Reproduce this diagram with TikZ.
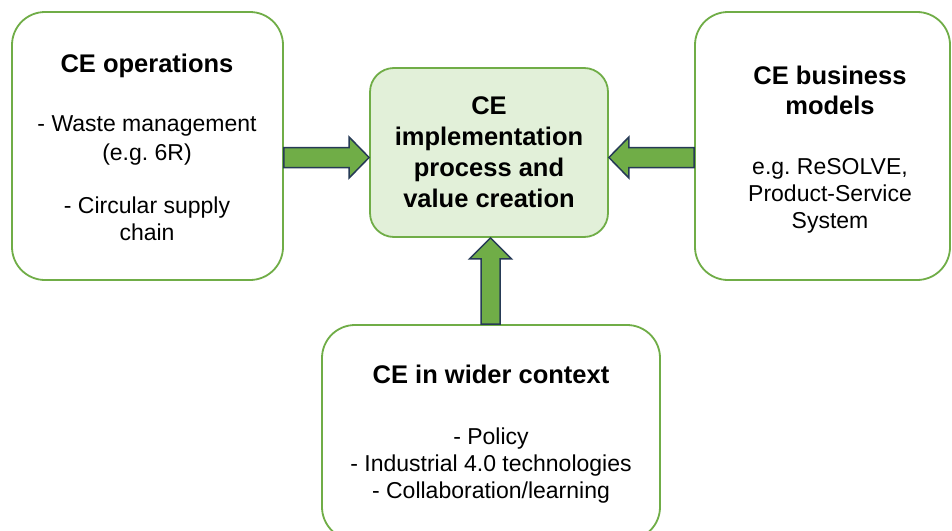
\documentclass[tikz,border=0pt]{standalone}
\usepackage{fontspec}
\setmainfont{Liberation Sans}
\usetikzlibrary{calc}
\definecolor{cegreen}{HTML}{70AD47}
\definecolor{cefill}{HTML}{E2F0D9}
\definecolor{cenavy}{HTML}{263A56}
\frenchspacing
\begin{document}
\begin{tikzpicture}[x=1pt,y=-1pt,
  panel/.style={draw=cegreen, line width=1.8pt, fill=white, inner sep=0pt, rounded corners=33pt},
  corebox/.style={draw=cegreen, line width=1.8pt, fill=cefill, inner sep=0pt, rounded corners=24pt},
  heading/.style={anchor=base, inner sep=0pt, font=\bfseries\fontsize{25.5}{30}\selectfont},
  bodytext/.style={anchor=base, inner sep=0pt, font=\fontsize{23}{27}\selectfont},
  fatarrow/.style={draw=cenavy, line width=1.5pt, fill=cegreen, line join=miter}]
\useasboundingbox (0,0) rectangle (952,530);
\clip (0,0) rectangle (952,530);
\fill[white] (0,0) rectangle (952,530);

% boxes
\node[panel, minimum width=271pt, minimum height=268pt] (ops) at (147.5,146) {};
\node[corebox, minimum width=238pt, minimum height=169pt] (impl) at (489,152.5) {};
\node[panel, minimum width=255pt, minimum height=268pt] (biz) at (822.5,146) {};
\node[panel, minimum width=338pt, minimum height=215pt] (ctx) at (491,432.5) {};

% left box text
\node[heading] (opsT) at (147,72) {CE operations};
\node[bodytext] (opsA) at (147,131) {- Waste management};
\node[bodytext] (opsB) at (147,160) {(e.g. 6R)};
\node[bodytext] (opsC) at (147,213) {- Circular supply};
\node[bodytext] (opsD) at (147,240) {chain};

% centre box text
\node[heading] (implA) at (489,114) {CE};
\node[heading] (implB) at (489,145) {implementation};
\node[heading] (implC) at (489,176) {process and};
\node[heading] (implD) at (489,207) {value creation};

% right box text
\node[heading] (bizA) at (830,84) {CE business};
\node[heading] (bizB) at (830,114) {models};
\node[bodytext] (bizC) at (830,174) {e.g. ReSOLVE,};
\node[bodytext] (bizD) at (830,201) {Product-Service};
\node[bodytext] (bizE) at (830,228) {System};

% bottom box text
\node[heading] (ctxT) at (491,383) {CE in wider context};
\node[bodytext] (ctxA) at (491,444) {- Policy};
\node[bodytext] (ctxB) at (491,471) {- Industrial 4.0 technologies};
\node[bodytext] (ctxC) at (491,498) {- Collaboration/learning};

% block arrows into the centre box
\coordinate (lt) at ($(impl.west)+(0,5)$);
\coordinate (ls) at (ops.east |- lt);
\draw[fatarrow] ($(ls)+(0,-10)$) -- ($(lt)+(-20,-10)$) -- ($(lt)+(-20,-20.5)$) -- (lt)
  -- ($(lt)+(-20,20.5)$) -- ($(lt)+(-20,10)$) -- ($(ls)+(0,10)$) -- cycle;

\coordinate (rt) at ($(impl.east)+(0,5)$);
\coordinate (rs) at (biz.west |- rt);
\draw[fatarrow] ($(rs)+(0,-10)$) -- ($(rt)+(20,-10)$) -- ($(rt)+(20,-20.5)$) -- (rt)
  -- ($(rt)+(20,20.5)$) -- ($(rt)+(20,10)$) -- ($(rs)+(0,10)$) -- cycle;

\coordinate (ut) at ($(impl.south)+(1.5,0)$);
\coordinate (us) at (ut |- ctx.north);
\draw[fatarrow] ($(us)+(-9.5,0)$) -- ($(ut)+(-9.5,21)$) -- ($(ut)+(-21,21)$) -- (ut)
  -- ($(ut)+(21,21)$) -- ($(ut)+(9.5,21)$) -- ($(us)+(9.5,0)$) -- cycle;
\end{tikzpicture}
\end{document}
